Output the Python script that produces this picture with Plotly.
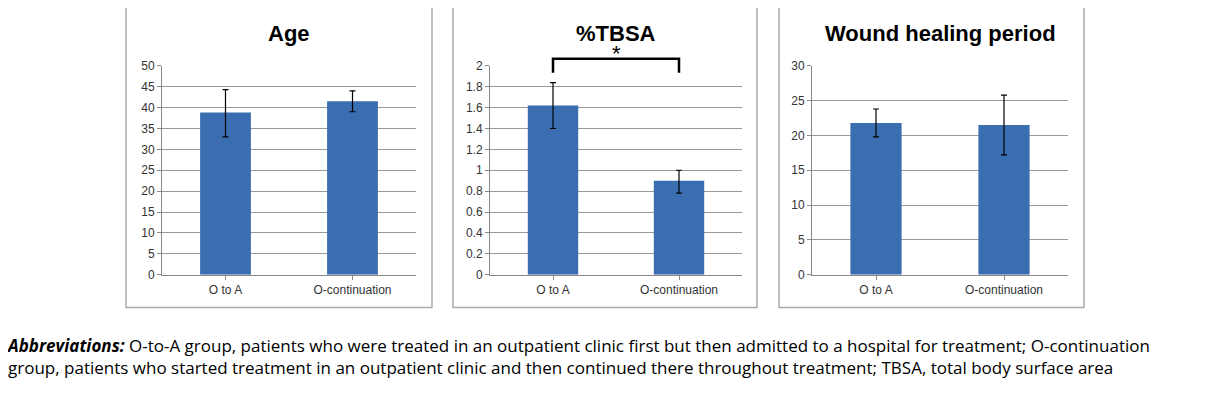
import plotly.graph_objects as go

W, H = 1211, 408

groups = ['O to A', 'O-continuation']
titles = ['Age', '%TBSA', 'Wound healing period']
values = [[38.8, 41.5], [1.62, 0.90], [21.8, 21.5]]
err_plus = [[5.5, 2.5], [0.22, 0.10], [2.0, 4.3]]
err_minus = [[5.8, 2.5], [0.22, 0.12], [2.0, 4.3]]
y_max = [50, 2, 30]
y_dtick = [5, 0.2, 5]

# panel geometry in pixels: (box left, box right, axis left, axis right)
panels = [(126, 432, 162, 416), (453, 757, 490, 742), (779, 1084, 812, 1068)]
top_px, bottom_px = 65, 275

# the page adds a small offset / vertical squeeze; compensate for it
def px(x):
    return (x - 8) / W

def py(y):
    return 1 - ((y - 13.9) / 0.971) / H

fig = go.Figure()
for i in range(3):
    n = '' if i == 0 else str(i + 1)
    fig.add_trace(go.Bar(
        x=groups, y=values[i], xaxis='x' + n, yaxis='y' + n,
        marker=dict(color='#3a6eb0', line=dict(width=0)),
        error_y=dict(type='data', array=err_plus[i], arrayminus=err_minus[i],
                     color='black', thickness=1.2, width=3),
        showlegend=False))
    bl, br, al, ar = panels[i]
    fig.layout['xaxis' + n] = dict(domain=[px(al), px(ar)], anchor='y' + n,
                                   showline=True, linecolor='#888', ticks='outside',
                                   tickcolor='#888', ticklen=4,
                                   tickfont=dict(size=12, color='#333'), fixedrange=True)
    fig.layout['yaxis' + n] = dict(domain=[py(bottom_px), py(top_px)], anchor='x' + n,
                                   range=[0, y_max[i]], dtick=y_dtick[i],
                                   showgrid=True, gridcolor='#999', gridwidth=1,
                                   showline=True, linecolor='#888', ticks='outside',
                                   tickcolor='#888', ticklen=4, zeroline=False,
                                   tickfont=dict(size=12, color='#333'))
    fig.add_shape(type='rect', xref='paper', yref='paper',
                  x0=px(bl), x1=px(br), y0=py(308), y1=py(5),
                  line=dict(color='#aaa', width=1.5))
    fig.add_annotation(text='<b>' + titles[i] + '</b>', xref='paper', yref='paper',
                       x=(px(al) + px(ar)) / 2, y=py(33), xanchor='center',
                       yanchor='middle', showarrow=False,
                       font=dict(size=22, color='black'))

# significance bracket on %TBSA
fig.add_shape(type='path', xref='x2', yref='paper',
              path='M 0,%f L 0,%f L 1,%f L 1,%f' % (py(72), py(58), py(58), py(72)),
              line=dict(color='black', width=2.5))
fig.add_annotation(text='*', xref='x2', yref='paper', x=0.5, y=py(53),
                   xanchor='center', yanchor='middle',
                   showarrow=False, font=dict(size=22, color='black'))

fig.add_annotation(
    text='<b><i>Abbreviations:</i></b> O-to-A group, patients who were treated in an outpatient clinic first but then admitted to a hospital for treatment; O-continuation<br>'
         'group, patients who started treatment in an outpatient clinic and then continued there throughout treatment; TBSA, total body surface area',
    xref='paper', yref='paper', x=px(4), y=py(333), xanchor='left', yanchor='top',
    align='left', showarrow=False, font=dict(family='Open Sans', size=17, color='black'))

fig.update_layout(width=W, height=H, margin=dict(l=0, r=0, t=0, b=0),
                  paper_bgcolor='white', plot_bgcolor='white', bargap=0.6,
                  font=dict(family='Liberation Sans'))
fig.write_html('out.html')
